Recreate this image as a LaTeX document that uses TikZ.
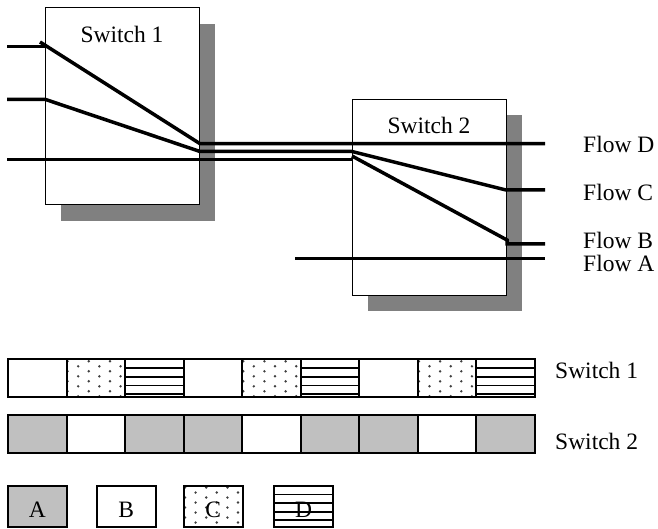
\documentclass[tikz,border=0pt]{standalone}
\usepackage{fontspec}
\setmainfont{Liberation Serif}

\definecolor{shadowgray}{HTML}{808080}
\definecolor{slotgray}{HTML}{C0C0C0}
\definecolor{dotgray}{HTML}{404040}

\begin{document}
\begin{tikzpicture}[x=1pt,y=-1pt,
    font=\fontsize{23.5}{28}\selectfont,
    flow/.style={line width=3.5pt},
    switchbox/.style={draw, line width=1pt, fill=white, anchor=north west, inner sep=0pt},
    slot/.style={draw, line width=2pt, minimum width=58.6pt, minimum height=37.6pt, inner sep=0pt, anchor=north west},
    slotA/.style={slot, fill=slotgray},
    slotB/.style={slot, fill=white},
    % dotted slot (flow C)
    slotC/.style={slot, fill=white, path picture={
      \foreach \i in {0,...,5} \foreach \j in {0,...,4}
        \fill[dotgray] ([shift={({(1+10.6*\i)*1pt},{-(2+5*mod(\i,2)+10*\j)*1pt})}]path picture bounding box.north west) circle (1.35pt);}},
    % striped slot (flow D)
    slotD/.style={slot, fill=white, path picture={
      \foreach \j in {1,...,4}
        \draw[line width=1.8pt] ([yshift={-(0.4+8.6*\j)*1pt}]path picture bounding box.north west) -- ++(62pt,0pt);}},
    legend/.style={minimum height=41pt, text height=23pt, text depth=0pt},
    flowlabel/.style={anchor=base west, inner sep=0pt}]
  \fill[white] (0,0) rectangle (658,529);
  \useasboundingbox (0,0) rectangle (658,529);

  % Shadows behind the switches
  \fill[shadowgray] (61,24) rectangle (215,221);
  \fill[shadowgray] (368,115) rectangle (522,311);

  % Switches
  \node[switchbox, minimum width=154pt, minimum height=197pt] (sw1) at (45,7) {};
  \node[switchbox, minimum width=154pt, minimum height=196pt] (sw2) at (352,99) {};
  \node[anchor=base, inner sep=0pt] (sw1name) at (122,43) {Switch 1};
  \node[anchor=base, inner sep=0pt] (sw2name) at (429,134) {Switch 2};

  % Flow end points and bends
  \coordinate (inD) at (7,46.5);   \coordinate (bendD) at (45,46.5);
  \coordinate (hookD) at (40,42);  \coordinate (outD) at (200,143.7);
  \coordinate (endD) at (545,143.7);
  \coordinate (inC) at (7,99.3);   \coordinate (bendC) at (45,99.3);
  \coordinate (outC) at (200,151.5); \coordinate (joinC) at (352,151.5);
  \coordinate (dropC) at (506,190); \coordinate (endC) at (545,190);
  \coordinate (inB) at (7,159.6);  \coordinate (stopB) at (353,159.6);
  \coordinate (joinB) at (352,156); \coordinate (dropB) at (507,240);
  \coordinate (stepB) at (507,244); \coordinate (endB) at (545,244);
  \coordinate (inA) at (295,258.3); \coordinate (endA) at (545,258.3);

  % Flows through the two switches
  \draw[flow] (inD) -- (bendD);
  \draw[flow] (hookD) -- (outD) -- (endD);
  \draw[flow] (inC) -- (bendC) -- (outC) -- (joinC) -- (dropC) -- (endC);
  \draw[flow] (inB) -- (stopB);
  \draw[flow] (joinB) -- (dropB) -- (stepB) -- (endB);
  \draw[flow] (inA) -- (endA);

  % Flow names
  \node[flowlabel] (lblD) at (583,153) {Flow D};
  \node[flowlabel] (lblC) at (583,201) {Flow C};
  \node[flowlabel] (lblB) at (583,249) {Flow B};
  \node[flowlabel] (lblA) at (583,271) {Flow A};

  % Slot sequence on each link
  \foreach \t [count=\i from 0] in {B,C,D,B,C,D,B,C,D}
    \node[slot\t] (row1slot\i) at ({7+\i*58.56},358.3) {};
  \foreach \t [count=\i from 0] in {A,B,A,A,B,A,A,B,A}
    \node[slot\t] (row2slot\i) at ({7+\i*58.56},414.2) {};
  \node[flowlabel] (row1name) at (555,378) {Switch 1};
  \node[flowlabel] (row2name) at (555,449) {Switch 2};

  % Legend
  \node[slotA, legend] (keyA) at (7,484.5) {A};
  \node[slotB, legend] (keyB) at (96,484.5) {B};
  \node[slotC, legend] (keyC) at (183,484.5) {C};
  \node[slotD, legend] (keyD) at (273.3,484.5) {D};
\end{tikzpicture}
\end{document}
